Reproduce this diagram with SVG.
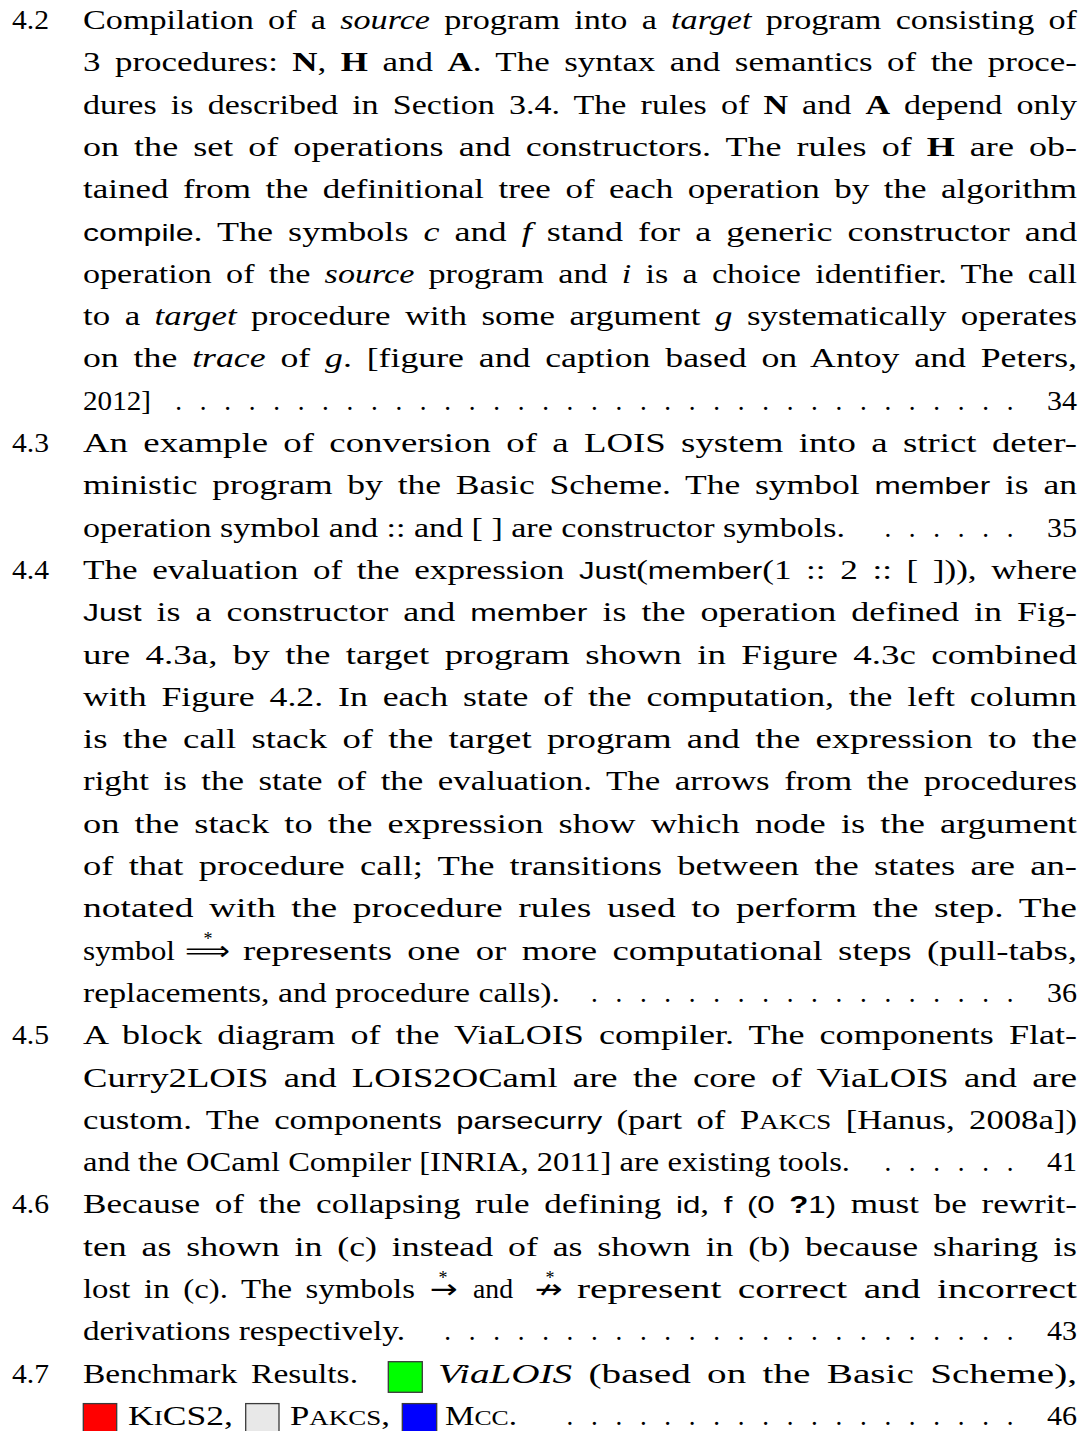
<svg xmlns="http://www.w3.org/2000/svg" width="1087" height="1431" viewBox="0 0 1087 1431">
<style>
text{font-family:"Liberation Serif",serif;font-size:27px;fill:#000}
.j{word-spacing:4.5px}
.s{font-family:"Liberation Sans",sans-serif;font-size:24px}
.b{font-weight:bold}
.i{font-style:italic}
.sc{font-size:21px}
.ar{font-family:"DejaVu Sans",sans-serif}
.st{font-size:18px}
.pg{text-anchor:end}
.dots{text-anchor:middle}
.box{stroke:#3a3a3a;stroke-width:1.3}
</style>
<rect width="1087" height="1431" fill="#fff"/>

<g id="entry-4-2">
<text x="12" y="29" textLength="37" lengthAdjust="spacingAndGlyphs">4.2</text>
<text class="j" x="83" y="29" textLength="994" lengthAdjust="spacingAndGlyphs">Compilation of a <tspan class="i">source</tspan> program into a <tspan class="i">target</tspan> program consisting of</text>
<text class="j" x="83" y="71.3" textLength="994" lengthAdjust="spacingAndGlyphs">3 procedures: <tspan class="b">N</tspan>, <tspan class="b">H</tspan> and <tspan class="b">A</tspan>. The syntax and semantics of the proce-</text>
<text class="j" x="83" y="113.6" textLength="994" lengthAdjust="spacingAndGlyphs">dures is described in Section 3.4. The rules of <tspan class="b">N</tspan> and <tspan class="b">A</tspan> depend only</text>
<text class="j" x="83" y="155.9" textLength="994" lengthAdjust="spacingAndGlyphs">on the set of operations and constructors. The rules of <tspan class="b">H</tspan> are ob-</text>
<text class="j" x="83" y="198.2" textLength="994" lengthAdjust="spacingAndGlyphs">tained from the definitional tree of each operation by the algorithm</text>
<text class="j" x="83" y="240.5" textLength="994" lengthAdjust="spacingAndGlyphs"><tspan class="s">compile</tspan>. The symbols <tspan class="i">c</tspan> and <tspan class="i">f</tspan> stand for a generic constructor and</text>
<text class="j" x="83" y="282.8" textLength="994" lengthAdjust="spacingAndGlyphs">operation of the <tspan class="i">source</tspan> program and <tspan class="i">i</tspan> is a choice identifier. The call</text>
<text class="j" x="83" y="325.1" textLength="994" lengthAdjust="spacingAndGlyphs">to a <tspan class="i">target</tspan> procedure with some argument <tspan class="i">g</tspan> systematically operates</text>
<text class="j" x="83" y="367.4" textLength="994" lengthAdjust="spacingAndGlyphs">on the <tspan class="i">trace</tspan> of <tspan class="i">g</tspan>. [figure and caption based on Antoy and Peters,</text>
<text x="83" y="409.7" textLength="68" lengthAdjust="spacingAndGlyphs">2012]</text>
<text class="dots" y="409.7" x="178.7 203.2 227.6 252.1 276.5 301 325.4 349.9 374.3 398.8 423.2 447.7 472.1 496.6 521 545.5 569.9 594.4 618.8 643.3 667.7 692.2 716.6 741.1 765.5 790 814.4 838.9 863.3 887.8 912.2 936.7 961.1 985.6 1010">...................................</text>
<text class="pg" x="1077" y="409.7" textLength="30" lengthAdjust="spacingAndGlyphs">34</text>
</g>

<g id="entry-4-3">
<text x="12" y="452" textLength="37" lengthAdjust="spacingAndGlyphs">4.3</text>
<text class="j" x="83" y="452" textLength="994" lengthAdjust="spacingAndGlyphs">An example of conversion of a LOIS system into a strict deter-</text>
<text class="j" x="83" y="494.3" textLength="994" lengthAdjust="spacingAndGlyphs">ministic program by the Basic Scheme. The symbol <tspan class="s">member</tspan> is an</text>
<text x="83" y="536.6" textLength="762" lengthAdjust="spacingAndGlyphs">operation symbol and :: and [ ] are constructor symbols.</text>
<text class="dots" y="536.6" x="887.8 912.2 936.7 961.1 985.6 1010">......</text>
<text class="pg" x="1077" y="536.6" textLength="30" lengthAdjust="spacingAndGlyphs">35</text>
</g>

<g id="entry-4-4">
<text x="12" y="578.9" textLength="37" lengthAdjust="spacingAndGlyphs">4.4</text>
<text class="j" x="83" y="578.9" textLength="994" lengthAdjust="spacingAndGlyphs">The evaluation of the expression <tspan class="s">Just</tspan>(<tspan class="s">member</tspan>(1 :: 2 :: [ ])), where</text>
<text class="j" x="83" y="621.2" textLength="994" lengthAdjust="spacingAndGlyphs"><tspan class="s">Just</tspan> is a constructor and <tspan class="s">member</tspan> is the operation defined in Fig-</text>
<text class="j" x="83" y="663.5" textLength="994" lengthAdjust="spacingAndGlyphs">ure 4.3a, by the target program shown in Figure 4.3c combined</text>
<text class="j" x="83" y="705.8" textLength="994" lengthAdjust="spacingAndGlyphs">with Figure  4.2. In each state of the computation, the left column</text>
<text class="j" x="83" y="748.1" textLength="994" lengthAdjust="spacingAndGlyphs">is the call stack of the target program and the expression to the</text>
<text class="j" x="83" y="790.4" textLength="994" lengthAdjust="spacingAndGlyphs">right is the state of the evaluation. The arrows from the procedures</text>
<text class="j" x="83" y="832.7" textLength="994" lengthAdjust="spacingAndGlyphs">on the stack to the expression show which node is the argument</text>
<text class="j" x="83" y="875" textLength="994" lengthAdjust="spacingAndGlyphs">of that procedure call; The transitions between the states are an-</text>
<text class="j" x="83" y="917.3" textLength="994" lengthAdjust="spacingAndGlyphs">notated with the procedure rules used to perform the step. The</text>
<text x="83" y="959.6" textLength="92" lengthAdjust="spacingAndGlyphs">symbol</text>
<text class="ar" x="185" y="959.6" textLength="45" lengthAdjust="spacingAndGlyphs">⟹</text>
<text class="st" x="208" y="945" text-anchor="middle">*</text>
<text class="j" x="243" y="959.6" textLength="834" lengthAdjust="spacingAndGlyphs">represents one or more computational steps (pull-tabs,</text>
<text x="83" y="1001.9" textLength="477" lengthAdjust="spacingAndGlyphs">replacements, and procedure calls).</text>
<text class="dots" y="1001.9" x="594.4 618.8 643.3 667.7 692.2 716.6 741.1 765.5 790 814.4 838.9 863.3 887.8 912.2 936.7 961.1 985.6 1010">..................</text>
<text class="pg" x="1077" y="1001.9" textLength="30" lengthAdjust="spacingAndGlyphs">36</text>
</g>

<g id="entry-4-5">
<text x="12" y="1044.2" textLength="37" lengthAdjust="spacingAndGlyphs">4.5</text>
<text class="j" x="83" y="1044.2" textLength="994" lengthAdjust="spacingAndGlyphs">A block diagram of the ViaLOIS compiler. The components Flat-</text>
<text class="j" x="83" y="1086.5" textLength="994" lengthAdjust="spacingAndGlyphs">Curry2LOIS and LOIS2OCaml are the core of ViaLOIS and are</text>
<text class="j" x="83" y="1128.8" textLength="994" lengthAdjust="spacingAndGlyphs">custom. The components <tspan class="s">parsecurry</tspan> (part of P<tspan class="sc">AKCS</tspan> [Hanus, 2008a])</text>
<text x="83" y="1171.1" textLength="767" lengthAdjust="spacingAndGlyphs">and the OCaml Compiler [INRIA, 2011] are existing tools.</text>
<text class="dots" y="1171.1" x="887.8 912.2 936.7 961.1 985.6 1010">......</text>
<text class="pg" x="1077" y="1171.1" textLength="30" lengthAdjust="spacingAndGlyphs">41</text>
</g>

<g id="entry-4-6">
<text x="12" y="1213.4" textLength="37" lengthAdjust="spacingAndGlyphs">4.6</text>
<text class="j" x="83" y="1213.4" textLength="994" lengthAdjust="spacingAndGlyphs">Because of the collapsing rule defining <tspan class="s">id</tspan>, <tspan class="s">f (0 <tspan class="b">?</tspan>1)</tspan> must be rewrit-</text>
<text class="j" x="83" y="1255.7" textLength="994" lengthAdjust="spacingAndGlyphs">ten as shown in (c) instead of as shown in (b) because sharing is</text>
<text class="j" x="83" y="1298" textLength="332" lengthAdjust="spacingAndGlyphs">lost in (c). The symbols</text>
<text class="ar" x="430" y="1298" textLength="28" lengthAdjust="spacingAndGlyphs">→</text>
<text class="st" x="443" y="1284" text-anchor="middle">*</text>
<text x="473" y="1298" textLength="40" lengthAdjust="spacingAndGlyphs">and</text>
<text class="ar" x="535" y="1298" textLength="28" lengthAdjust="spacingAndGlyphs">↛</text>
<text class="st" x="550" y="1284" text-anchor="middle">*</text>
<text class="j" x="577" y="1298" textLength="500" lengthAdjust="spacingAndGlyphs">represent correct and incorrect</text>
<text x="83" y="1340.3" textLength="322" lengthAdjust="spacingAndGlyphs">derivations respectively.</text>
<text class="dots" y="1340.3" x="447.7 472.1 496.6 521 545.5 569.9 594.4 618.8 643.3 667.7 692.2 716.6 741.1 765.5 790 814.4 838.9 863.3 887.8 912.2 936.7 961.1 985.6 1010">........................</text>
<text class="pg" x="1077" y="1340.3" textLength="30" lengthAdjust="spacingAndGlyphs">43</text>
</g>

<g id="entry-4-7">
<text x="12" y="1382.6" textLength="37" lengthAdjust="spacingAndGlyphs">4.7</text>
<text class="j" x="83" y="1382.6" textLength="275" lengthAdjust="spacingAndGlyphs">Benchmark Results.</text>
<rect class="box" x="388.3" y="1361.7" width="34" height="30.6" fill="#00ff00"/>
<text class="j" x="438" y="1382.6" textLength="639" lengthAdjust="spacingAndGlyphs"><tspan class="i">ViaLOIS</tspan> (based on the Basic Scheme),</text>
<rect class="box" x="83.3" y="1403.6" width="33.4" height="30.6" fill="#ff0000"/>
<text x="128" y="1424.9" textLength="105" lengthAdjust="spacingAndGlyphs">K<tspan class="sc">I</tspan>CS2,</text>
<rect class="box" x="245.7" y="1403.6" width="33.3" height="30.6" fill="#e8e8e8"/>
<text x="290" y="1424.9" textLength="100" lengthAdjust="spacingAndGlyphs">P<tspan class="sc">AKCS</tspan>,</text>
<rect class="box" x="402.3" y="1403.6" width="34.4" height="30.6" fill="#0000ff"/>
<text x="445" y="1424.9" textLength="72" lengthAdjust="spacingAndGlyphs">M<tspan class="sc">CC</tspan>.</text>
<text class="dots" y="1424.9" x="569.9 594.4 618.8 643.3 667.7 692.2 716.6 741.1 765.5 790 814.4 838.9 863.3 887.8 912.2 936.7 961.1 985.6 1010">...................</text>
<text class="pg" x="1077" y="1424.9" textLength="30" lengthAdjust="spacingAndGlyphs">46</text>
</g>
</svg>
